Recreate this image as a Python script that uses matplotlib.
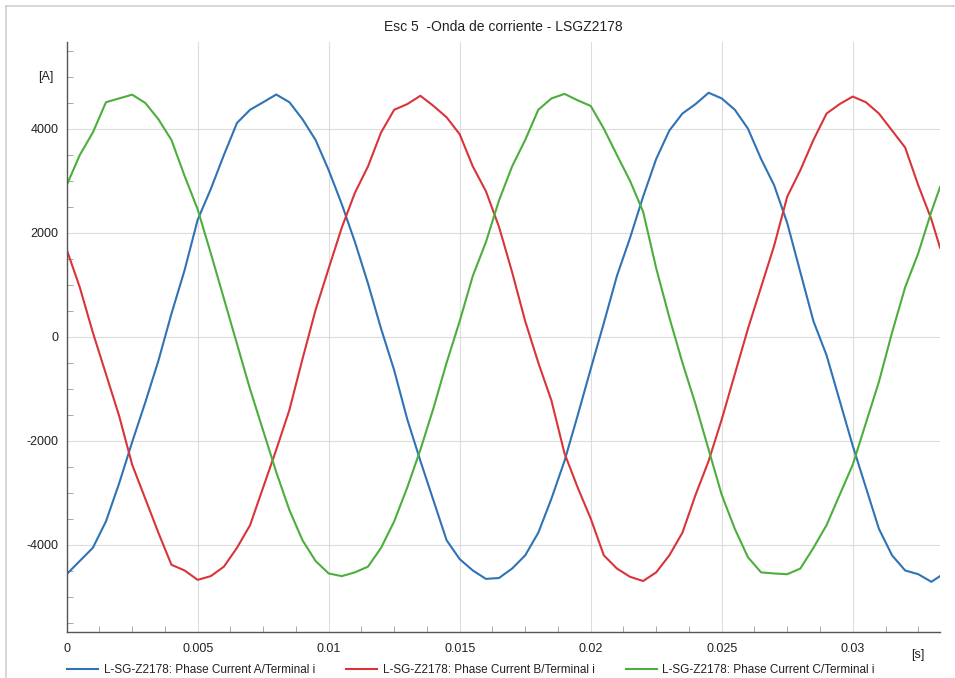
import matplotlib
matplotlib.use("Agg")
import matplotlib.pyplot as plt
from matplotlib.lines import Line2D

plt.rcParams['font.family'] = ['Liberation Sans', 'DejaVu Sans']
plt.rcParams['axes.unicode_minus'] = False

# sample times in milliseconds (every 0.5 ms)
t_ms = [0, 0.5, 1, 1.5, 2, 2.5, 3, 3.5, 4, 4.5,
        5, 5.5, 6, 6.5, 7, 7.5, 8, 8.5, 9, 9.5,
        10, 10.5, 11, 11.5, 12, 12.5, 13, 13.5, 14, 14.5,
        15, 15.5, 16, 16.5, 17, 17.5, 18, 18.5, 19, 19.5,
        20, 20.5, 21, 21.5, 22, 22.5, 23, 23.5, 24, 24.5,
        25, 25.5, 26, 26.5, 27, 27.5, 28, 28.5, 29, 29.5,
        30, 30.5, 31, 31.5, 32, 32.5, 33, 33.33]

phase_a = [-4570, -4316, -4062, -3553, -2826, -2027, -1264, -465, 443, 1279,
           2250, 2841, 3495, 4113, 4367, 4512, 4660, 4512, 4185, 3785,
           3204, 2550, 1824, 1025, 153, -647, -1591, -2390, -3153, -3916,
           -4280, -4498, -4660, -4643, -4461, -4207, -3771, -3117, -2390, -1519,
           -620, 262, 1170, 1900, 2696, 3422, 3967, 4294, 4476, 4694,
           4585, 4367, 4004, 3422, 2914, 2187, 1242, 298, -356, -1228,
           -2100, -2899, -3698, -4207, -4498, -4570, -4716, -4607]

phase_b = [1678, 952, 80, -719, -1519, -2463, -3117, -3771, -4389, -4498,
           -4679, -4607, -4425, -4062, -3626, -2899, -2173, -1410, -429, 516,
           1315, 2100, 2768, 3277, 3931, 4367, 4476, 4636, 4440, 4222,
           3895, 3277, 2800, 2114, 1242, 298, -501, -1228, -2245, -2899,
           -3500, -4207, -4461, -4620, -4701, -4534, -4207, -3771, -3044, -2390,
           -1591, -719, 153, 952, 1751, 2696, 3204, 3786, 4294, 4476,
           4621, 4512, 4294, 3967, 3640, 2914, 2260, 1715]

phase_c = [2914, 3495, 3931, 4512, 4585, 4657, 4498, 4185, 3785, 3095,
           2450, 1606, 734, -138, -1010, -1809, -2608, -3335, -3916, -4316,
           -4556, -4607, -4534, -4425, -4062, -3553, -2899, -2173, -1373, -500,
           300, 1170, 1820, 2623, 3277, 3786, 4367, 4585, 4672, 4549,
           4440, 4004, 3495, 3000, 2405, 1315, 371, -501, -1301, -2173,
           -3044, -3698, -4243, -4534, -4556, -4570, -4461, -4062, -3626, -3044,
           -2463, -1664, -865, 80, 952, 1606, 2405, 2877]

labels = ["L-SG-Z2178: Phase Current A/Terminal i",
          "L-SG-Z2178: Phase Current B/Terminal i",
          "L-SG-Z2178: Phase Current C/Terminal i"]
colors = ["#2f73b5", "#d8343a", "#4cae3c"]

xticks = [0, 0.005, 0.01, 0.015, 0.02, 0.025, 0.03]
xticklabels = ["0", "0.005", "0.01", "0.015", "0.02", "0.025", "0.03"]
yticks = [-4000, -2000, 0, 2000, 4000]

t = [v / 1000 for v in t_ms]

fig = plt.figure(figsize=(9.55, 6.78), dpi=100)
# light frame on the top and left edges of the picture
fig.add_artist(Line2D([0.0065, 1.0], [0.9915, 0.9915], transform=fig.transFigure,
                      color="#d0d0d0", linewidth=1.2))
fig.add_artist(Line2D([0.0065, 0.0065], [0.0, 0.9915], transform=fig.transFigure,
                      color="#d0d0d0", linewidth=1.2))

ax = fig.add_axes([0.0698, 0.068, 0.9145, 0.87])
for series, c, lab in zip([phase_a, phase_b, phase_c], colors, labels):
    ax.plot(t, series, color=c, linewidth=1.5, label=lab)

ax.set_xlim(0, 0.03333)
ax.set_ylim(-5680, 5670)
ax.set_xticks(xticks)
ax.set_xticklabels(xticklabels)
ax.set_yticks(yticks)
ax.set_yticklabels([str(v) for v in yticks])
ax.set_xticks([x / 1000 for x in [1.25, 2.5, 3.75, 6.25, 7.5, 8.75, 11.25, 12.5, 13.75,
                                  16.25, 17.5, 18.75, 21.25, 22.5, 23.75, 26.25, 27.5,
                                  28.75, 31.25, 32.5]], minor=True)
ax.set_yticks([-5500, -5000, -4500, -3500, -3000, -2500, -1500, -1000, -500, 500,
               1000, 1500, 2500, 3000, 3500, 4500, 5000, 5500], minor=True)
ax.grid(True, which="major", color="#dcdcdc", linewidth=0.8)
ax.set_axisbelow(True)
ax.tick_params(which="both", direction="in", colors="#999999", labelcolor="#222222",
               labelsize=9)
ax.tick_params(axis="y", which="major", length=0, pad=6)
ax.tick_params(axis="x", which="major", length=0, pad=8)
ax.tick_params(which="minor", length=4)
for s in ["top", "right"]:
    ax.spines[s].set_visible(False)
for s in ["left", "bottom"]:
    ax.spines[s].set_color("#555555")
    ax.spines[s].set_linewidth(1.0)

ax.text(-0.00052, 5000, "[A]", ha="right", va="center", fontsize=9, color="#222222")
ax.text(0.0325, -5680 - 330, "[s]", ha="center", va="top", fontsize=9, color="#222222")

fig.suptitle("Esc 5  -Onda de corriente - LSGZ2178", x=0.527, y=0.97, fontsize=10,
             color="#222222")

handles = [Line2D([], [], color=c, linewidth=1.5) for c in colors]
fig.legend(handles, labels, loc="center left", bbox_to_anchor=(0.059, 0.012), ncol=3,
           frameon=False, fontsize=8.5, handlelength=2.6, handletextpad=0.5,
           columnspacing=2.65, labelcolor="#222222")

fig.savefig("out.png", dpi=100)
